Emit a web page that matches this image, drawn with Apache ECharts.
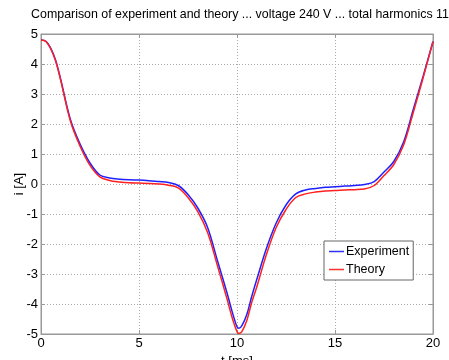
<!DOCTYPE html>
<html>
<head>
<meta charset="utf-8">
<script src="https://cdn.jsdelivr.net/npm/echarts@6/dist/echarts.min.js"></script>
<style>
  html, body { margin: 0; padding: 0; background: #fff; }
  #chart { width: 449px; height: 360px; }
</style>
</head>
<body>
<div id="chart"></div>
<script>
// time axis [ms]
const time = [0, 0.25, 0.5, 0.75, 1, 1.5, 2, 2.5, 3, 3.5, 4, 4.5, 5, 5.5, 6, 6.5, 7, 7.5, 8, 8.5, 9, 9.5,
  9.75, 10, 10.1, 10.25, 10.5, 10.75, 11, 11.5, 12, 12.5, 13, 13.5, 14, 14.5, 15, 15.5, 16,
  16.5, 17, 17.5, 18, 18.5, 19, 19.5, 20];
const experiment = [4.80, 4.76, 4.52, 4.12, 3.50, 2.15, 1.32, 0.70, 0.30, 0.20, 0.16, 0.14, 0.13, 0.11, 0.08,
  0.05, -0.05, -0.35, -0.80, -1.45, -2.55, -3.65,
  -4.25, -4.76, -4.81, -4.72, -4.35, -3.75, -3.20, -2.15, -1.30, -0.70, -0.33, -0.20, -0.15,
  -0.11, -0.09, -0.07, -0.05, -0.02, 0.08, 0.40, 0.75, 1.40, 2.50, 3.60, 4.75];
const theory = [4.80, 4.75, 4.50, 4.09, 3.47, 2.10, 1.25, 0.62, 0.24, 0.12, 0.07, 0.04, 0.03, 0.02, 0.00,
  -0.04, -0.13, -0.45, -0.92, -1.62, -2.72, -3.85,
  -4.45, -4.92, -4.98, -4.92, -4.55, -3.95, -3.45, -2.35, -1.45, -0.85, -0.45, -0.33, -0.27,
  -0.23, -0.22, -0.20, -0.19, -0.17, -0.05, 0.28, 0.65, 1.30, 2.40, 3.55, 4.75];

const pairs = (ys) => time.map((t, i) => [t, ys[i]]);
const font = 'Liberation Sans, Arial, sans-serif';
const gridLine = { show: true, lineStyle: { color: '#aaa', type: [1, 2], width: 1 } };

const chart = echarts.init(document.getElementById('chart'));
chart.setOption({
  animation: false,
  title: {
    text: 'Comparison of experiment and theory ... voltage 240 V ... total harmonics 11',
    left: 235, top: 4, textAlign: 'center',
    textStyle: { fontFamily: font, fontSize: 12.4, fontWeight: 'normal', color: '#000' }
  },
  grid: { left: 41, right: 16, top: 34, bottom: 26, outerBoundsMode: 'none', containLabel: false,
    show: true, borderColor: '#999', borderWidth: 1 },
  legend: {
    orient: 'vertical', left: 324, top: 241,
    data: ['Experiment', 'Theory'],
    icon: 'rect', itemWidth: 15, itemHeight: 1.5, itemGap: 5,
    backgroundColor: '#fff', borderColor: '#666', borderWidth: 1, padding: [4, 4, 4, 5],
    textStyle: { fontFamily: font, fontSize: 12.5, color: '#000', padding: [0, 0, 0, -3] }
  },
  xAxis: [{
    type: 'value', min: 0, max: 20, interval: 5,
    name: 't [ms]', nameLocation: 'middle', nameGap: 16,
    nameTextStyle: { fontFamily: font, fontSize: 13, color: '#000' },
    axisLine: { show: true, onZero: false, lineStyle: { color: '#999' } },
    axisTick: { inside: true, length: 4, lineStyle: { color: '#999' } },
    axisLabel: { fontFamily: font, fontSize: 13, color: '#000', margin: 3 },
    splitLine: gridLine
  }, {
    type: 'value', position: 'top', min: 0, max: 20, interval: 5,
    axisLine: { show: true, onZero: false, lineStyle: { color: '#999' } },
    axisTick: { inside: true, length: 4, lineStyle: { color: '#999' } },
    axisLabel: { show: false }, splitLine: { show: false }
  }],
  yAxis: [{
    type: 'value', min: -5, max: 5, interval: 1,
    name: 'i [A]', nameLocation: 'middle', nameGap: 15, nameMoveOverlap: false,
    nameTextStyle: { fontFamily: font, fontSize: 13, color: '#000' },
    axisLine: { show: true, onZero: false, lineStyle: { color: '#999' } },
    axisTick: { inside: true, length: 4, lineStyle: { color: '#999' } },
    axisLabel: { fontFamily: font, fontSize: 13, color: '#000', margin: 3 },
    splitLine: gridLine
  }, {
    type: 'value', position: 'right', min: -5, max: 5, interval: 1,
    axisLine: { show: true, onZero: false, lineStyle: { color: '#999' } },
    axisTick: { inside: true, length: 4, lineStyle: { color: '#999' } },
    axisLabel: { show: false }, splitLine: { show: false }
  }],
  series: [
    {
      name: 'Experiment', type: 'line', data: pairs(experiment),
      showSymbol: false, symbol: 'none', smooth: 0.35,
      itemStyle: { color: '#3030ff' },
      lineStyle: { color: '#2020ff', width: 1.5 }
    },
    {
      name: 'Theory', type: 'line', data: pairs(theory),
      showSymbol: false, symbol: 'none', smooth: 0.35,
      itemStyle: { color: '#ff3030' },
      lineStyle: { color: '#ff2020', width: 1.5 }
    }
  ]
});
</script>
</body>
</html>
